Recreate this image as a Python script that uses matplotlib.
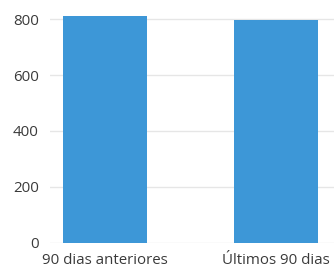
import matplotlib
matplotlib.use('Agg')
import matplotlib.pyplot as plt

categories = ['90 dias anteriores', 'Últimos 90 dias']
values = [811, 796]
y_ticks = [0, 200, 400, 600, 800]

plt.rcParams['font.family'] = ['Open Sans', 'DejaVu Sans']

fig = plt.figure(figsize=(3.34, 2.68), dpi=100)
# axes placed in pixel terms: left 50, right past edge, 0 at y=243, top at y=5
ax = fig.add_axes([50 / 334, 25 / 268, 1 - 50 / 334, 238 / 268])

x = range(len(categories))
ax.bar(x, values, width=0.49, color='#3d97d7', zorder=3)

ax.set_xlim(-0.32, 1.34)
ax.set_ylim(0, 850)
ax.set_yticks(y_ticks)
ax.set_xticks(list(x))
ax.set_xticklabels(categories)

ax.grid(axis='y', color='#e6e6e6', linewidth=1, zorder=0)
for s in ax.spines.values():
    s.set_visible(False)
ax.tick_params(axis='both', length=0, labelsize=10.8, labelcolor='#3a3a3a')
ax.tick_params(axis='y', pad=8)
ax.tick_params(axis='x', pad=7)

fig.savefig('out.png', dpi=100)
